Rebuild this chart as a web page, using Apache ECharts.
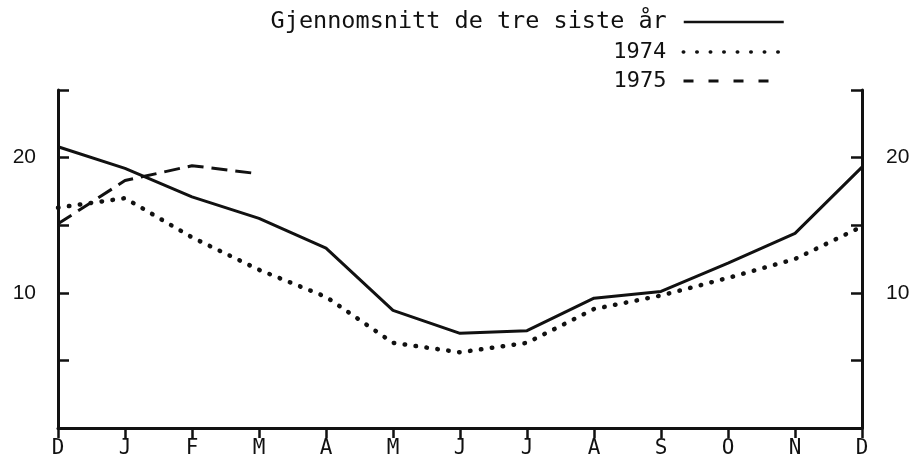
<!DOCTYPE html>
<html>
<head>
<meta charset="utf-8">
<script src="https://cdn.jsdelivr.net/npm/echarts@6/dist/echarts.min.js"></script>
<style>
html,body{margin:0;padding:0;background:#fff;}
#chart{width:915px;height:459px;}
</style>
</head>
<body>
<div id="chart"></div>
<script>
// ---- data ----
const months = ['D','J','F','M','A','M','J','J','A','S','O','N','D'];
const seriesNames = ['Gjennomsnitt de tre siste år', '1974', '1975'];
const avgValues = [20.8, 19.2, 17.1, 15.5, 13.3, 8.7, 7.0, 7.2, 9.6, 10.1, 12.2, 14.4, 19.3];
const values1974 = [16.3, 17.0, 14.1, 11.7, 9.7, 6.3, 5.6, 6.3, 8.8, 9.8, 11.1, 12.5, 14.9];
const values1975 = [15.1, 18.3, 19.4, 18.8];
const yLabelValues = [10, 20];

const INK = '#111';
const toPairs = arr => arr.map((v, i) => [i, v]);

const yAxisBase = (pos, margin) => ({
  type: 'value', position: pos, min: 0, max: 25, interval: 5,
  axisLine: { show: true, lineStyle: { color: INK, width: 3 } },
  axisTick: { show: true, inside: true, length: 11, lineStyle: { color: INK, width: 2.5 } },
  splitLine: { show: false },
  axisLabel: {
    margin: margin, color: INK, fontFamily: 'Liberation Sans', fontSize: 21,
    formatter: v => yLabelValues.indexOf(v) >= 0 ? String(v) : ''
  }
});

const legendBase = (name, top, fontSize, lineStyle) => ({
  data: [name], right: 130, top: top, orient: 'horizontal', align: 'right',
  itemWidth: 100, itemHeight: 14, padding: 0, selectedMode: false,
  textStyle: { fontFamily: 'DejaVu Sans Mono', fontSize: fontSize, color: INK, padding: [0, 12, 0, 0] },
  itemStyle: { opacity: 0, borderWidth: 0 },
  lineStyle: lineStyle
});

const chart = echarts.init(document.getElementById('chart'), null, { renderer: 'canvas' });
chart.setOption({
  backgroundColor: '#fff',
  animation: false,
  grid: { left: 58, right: 53, top: 90, bottom: 31, containLabel: false, outerBoundsMode: 'none' },
  legend: [
    legendBase(seriesNames[0], 10, 23.5, { width: 2.5, type: 'solid', color: INK }),
    legendBase(seriesNames[1], 41, 22, { width: 3.5, type: [0.5, 13], cap: 'round', color: INK }),
    legendBase(seriesNames[2], 70, 22, { width: 3, type: [10, 15], color: INK })
  ],
  xAxis: {
    type: 'value', min: 0, max: months.length - 1, interval: 1,
    axisLine: { show: true, onZero: false, lineStyle: { color: INK, width: 3 } },
    axisTick: { show: true, inside: false, length: 10, lineStyle: { color: INK, width: 2.5 } },
    splitLine: { show: false },
    axisLabel: {
      margin: 10, color: INK, fontFamily: 'DejaVu Sans Mono', fontSize: 21,
      formatter: v => months[v] || ''
    }
  },
  yAxis: [yAxisBase('left', 22), yAxisBase('right', 24)],
  series: [
    {
      name: seriesNames[0], type: 'line', data: toPairs(avgValues), symbol: 'none',
      itemStyle: { color: INK },
      lineStyle: { color: INK, width: 3, type: 'solid' }
    },
    {
      name: seriesNames[1], type: 'line', data: toPairs(values1974), symbol: 'none',
      itemStyle: { color: INK },
      lineStyle: { color: INK, width: 4.5, type: [0.5, 10.5], cap: 'round' }
    },
    {
      name: seriesNames[2], type: 'line', data: toPairs(values1975), symbol: 'none',
      itemStyle: { color: INK },
      lineStyle: { color: INK, width: 3, type: [16, 8] }
    }
  ]
});
</script>
</body>
</html>
